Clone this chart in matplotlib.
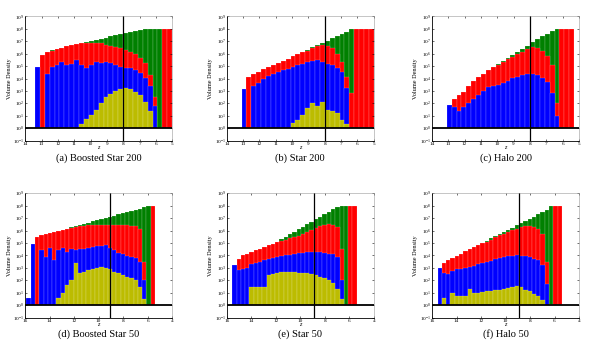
import numpy as np
import matplotlib
matplotlib.use("Agg")
import matplotlib.pyplot as plt

plt.rcParams['font.family'] = ['Liberation Serif', 'DejaVu Serif']
plt.rcParams['mathtext.fontset'] = 'stix'

# redshift bin centres (top row: width 0.3, bottom row: width 0.35)
z_top = [13.25, 12.95, 12.65, 12.35, 12.05, 11.75, 11.45, 11.15, 10.85, 10.55,
         10.25, 9.95, 9.65, 9.35, 9.05, 8.75, 8.45, 8.15, 7.85, 7.55,
         7.25, 6.95, 6.65, 6.35, 6.05, 5.75, 5.45, 5.15]
z_bot = [15.725, 15.375, 15.025, 14.675, 14.325, 13.975, 13.625, 13.275, 12.925, 12.575,
         12.225, 11.875, 11.525, 11.175, 10.825, 10.475, 10.125, 9.775, 9.425, 9.075,
         8.725, 8.375, 8.025, 7.675, 7.325, 6.975, 6.625, 6.275, 5.925, 5.575]

# log10 of volume density per bin (0 = empty)
# (a) Boosted Star 200
a_green = [4.96, 5.9, 6.15, 6.3, 6.4, 6.45, 6.63, 6.7, 6.8, 6.89,
           6.95, 7.03, 7.12, 7.22, 7.3, 7.4, 7.48, 7.57, 7.66, 7.75,
           7.83, 7.9, 7.96, 8.0, 8.0, 8.0, 0, 0]
a_red = [0, 5.86, 6.12, 6.25, 6.38, 6.45, 6.63, 6.7, 6.8, 6.89,
         6.89, 6.89, 6.89, 6.84, 6.71, 6.63, 6.55, 6.45, 6.32, 6.17,
         5.94, 5.66, 5.22, 4.32, 2.5, 0, 8.0, 8.0]
a_blue = [4.96, 0, 4.37, 4.96, 5.09, 5.35, 5.09, 5.2, 5.48, 5.09,
          4.83, 5.09, 5.35, 5.22, 5.35, 5.22, 5.09, 4.96, 4.88, 4.83,
          4.7, 4.45, 4.06, 3.42, 1.8, 0, 0, 0]
a_yellow = [0, 0, 0, 0, 0, 0, 0, 0, 0, 0.33,
            0.72, 1.1, 1.49, 2.0, 2.52, 2.78, 3.03, 3.16, 3.24, 3.16,
            2.9, 2.65, 2.13, 1.36, 0, 0, 0, 0]

# (b) Star 200
b_green = [0, 3.16, 4.1, 4.4, 4.56, 4.74, 4.9, 5.05, 5.25, 5.4,
           5.6, 5.8, 5.95, 6.1, 6.3, 6.5, 6.7, 6.88, 7.06, 7.23,
           7.4, 7.58, 7.75, 7.95, 8.0, 0, 0, 0]
b_red = [0, 0, 4.1, 4.4, 4.56, 4.74, 4.9, 5.05, 5.25, 5.4,
         5.6, 5.8, 5.95, 6.1, 6.25, 6.45, 6.6, 6.7, 6.65, 6.45,
         6.0, 5.35, 4.1, 2.8, 8.0, 8.0, 8.0, 8.0]
b_blue = [0, 3.16, 0, 3.42, 3.6, 3.96, 4.2, 4.35, 4.55, 4.65,
          4.8, 4.95, 5.05, 5.2, 5.35, 5.4, 5.5, 5.3, 5.2, 5.1,
          4.85, 4.5, 3.2, 0, 0, 0, 0, 0]
b_yellow = [0, 0, 0, 0, 0, 0, 0, 0, 0, 0,
            0, 0.4, 0.7, 1.1, 1.6, 2.0, 1.8, 2.1, 1.5, 1.4,
            1.2, 0.7, 0.3, 0, 0, 0, 0, 0]

# (c) Halo 200
c_green = [0, 1.87, 2.38, 2.64, 2.9, 3.42, 3.8, 4.15, 4.4, 4.65,
           4.9, 5.15, 5.4, 5.65, 5.9, 6.15, 6.4, 6.65, 6.9, 7.15,
           7.4, 7.6, 7.8, 8.0, 0, 0, 0, 0]
c_red = [0, 0, 2.38, 2.64, 2.9, 3.42, 3.8, 4.15, 4.4, 4.65,
         4.9, 5.1, 5.35, 5.55, 5.75, 5.95, 6.15, 6.35, 6.5, 6.45,
         6.2, 5.8, 5.1, 2.0, 8.0, 8.0, 8.0, 0]
c_blue = [0, 1.87, 1.74, 1.35, 1.74, 2.0, 2.38, 2.64, 3.0, 3.3,
          3.4, 3.45, 3.6, 3.8, 4.05, 4.15, 4.25, 4.35, 4.35, 4.25,
          4.05, 3.7, 2.8, 1.0, 0, 0, 0, 0]
c_yellow = [0] * 28

# (d) Boosted Star 50
d_green = [0.57, 4.92, 5.5, 5.67, 5.75, 5.82, 5.9, 5.98, 6.08, 6.17,
           6.26, 6.36, 6.45, 6.55, 6.64, 6.74, 6.83, 6.93, 7.02, 7.12,
           7.21, 7.31, 7.4, 7.5, 7.59, 7.69, 7.78, 7.88, 8.0, 0]
d_red = [0, 0, 5.5, 5.67, 5.75, 5.82, 5.9, 5.98, 6.05, 6.13,
         6.2, 6.28, 6.35, 6.4, 6.42, 6.45, 6.45, 6.45, 6.45, 6.45,
         6.45, 6.45, 6.45, 6.45, 6.4, 6.35, 6.1, 3.5, 0, 8.0]
d_blue = [0.57, 4.92, 0, 4.4, 3.9, 4.6, 3.6, 4.4, 4.6, 4.3,
          4.5, 4.4, 4.5, 4.5, 4.6, 4.7, 4.8, 4.75, 4.85, 4.6,
          4.4, 4.2, 4.1, 3.95, 3.9, 3.8, 3.5, 2.0, 0, 0]
d_yellow = [0, 0, 0, 0, 0, 0, 0, 0.6, 1.0, 1.6,
            2.0, 3.4, 2.6, 2.7, 2.8, 2.95, 3.0, 3.05, 3.0, 2.9,
            2.7, 2.6, 2.45, 2.3, 2.2, 2.0, 1.5, 0.5, 0, 0]

# (e) Star 50
e_green = [0, 3.24, 3.68, 4.0, 4.14, 4.25, 4.4, 4.55, 4.7, 4.82,
           4.95, 5.1, 5.3, 5.5, 5.7, 5.9, 6.1, 6.3, 6.5, 6.7,
           6.9, 7.1, 7.3, 7.5, 7.7, 7.9, 8.0, 8.0, 0, 0]
e_red = [0, 0, 3.68, 4.0, 4.14, 4.25, 4.4, 4.55, 4.7, 4.82,
         4.95, 5.05, 5.15, 5.27, 5.38, 5.5, 5.6, 5.75, 5.9, 6.05,
         6.25, 6.4, 6.45, 6.5, 6.45, 6.3, 4.5, 0, 8.0, 8.0]
e_blue = [0, 3.24, 2.8, 2.9, 3.0, 3.3, 3.4, 3.5, 3.65, 3.75,
          3.8, 3.9, 3.95, 4.0, 4.05, 4.1, 4.2, 4.2, 4.25, 4.3,
          4.3, 4.25, 4.2, 4.15, 4.1, 3.85, 2.0, 0, 0, 0]
e_yellow = [0, 0, 0, 0, 0, 1.45, 1.5, 1.5, 1.5, 2.4,
            2.5, 2.6, 2.65, 2.65, 2.65, 2.65, 2.6, 2.6, 2.55, 2.5,
            2.45, 2.3, 2.15, 2.0, 1.8, 1.3, 0.5, 0, 0, 0]

# (f) Halo 50
f_green = [0, 3.03, 3.42, 3.6, 3.8, 3.98, 4.15, 4.33, 4.5, 4.68,
           4.85, 5.03, 5.2, 5.38, 5.55, 5.73, 5.9, 6.08, 6.25, 6.43,
           6.6, 6.78, 6.95, 7.13, 7.3, 7.48, 7.65, 8.0, 0, 0]
f_red = [0, 0, 3.42, 3.6, 3.8, 3.98, 4.15, 4.33, 4.5, 4.68,
         4.85, 4.97, 5.1, 5.25, 5.45, 5.62, 5.75, 5.9, 6.02, 6.15,
         6.3, 6.4, 6.38, 6.3, 6.15, 5.75, 3.5, 0, 8.0, 8.0]
f_blue = [0, 3.03, 2.6, 2.5, 2.77, 2.9, 2.95, 3.03, 3.1, 3.16,
          3.3, 3.42, 3.5, 3.58, 3.7, 3.76, 3.85, 3.92, 3.95, 4.0,
          3.95, 3.92, 3.86, 3.75, 3.6, 3.2, 1.7, 0, 0, 0]
f_yellow = [0, 0, 0.57, 0, 0.96, 0.7, 0.7, 0.75, 1.3, 0.95,
            1.0, 1.05, 1.1, 1.15, 1.2, 1.22, 1.3, 1.35, 1.45, 1.55,
            1.5, 1.25, 1.1, 0.9, 0.7, 0.4, 0, 0, 0, 0]

captions = ['(a) Boosted Star 200', '(b) Star 200', '(c) Halo 200',
            '(d) Boosted Star 50', '(e) Star 50', '(f) Halo 50']
z_marker = [8.0, 8.0, 8.0, 9.06, 8.9, 8.9]

panels = [(a_green, a_red, a_blue, a_yellow), (b_green, b_red, b_blue, b_yellow),
          (c_green, c_red, c_blue, c_yellow), (d_green, d_red, d_blue, d_yellow),
          (e_green, e_red, e_blue, e_yellow), (f_green, f_red, f_blue, f_yellow)]
colors = ['#008000', '#ff0000', '#0000ff', '#bcbc00']

fig = plt.figure(figsize=(6, 3.49), dpi=100)
lefts = [0.042, 0.378, 0.72]
for i, series in enumerate(panels):
    row, col = divmod(i, 3)
    bottom = 0.597 if row == 0 else 0.09
    ax = fig.add_axes([lefts[col], bottom, 0.245, 0.356])
    if row == 0:
        z, w = np.array(z_top), 0.3
    else:
        z, w = np.array(z_bot), 0.35
    for vals, c in zip(series, colors):
        h = 10.0 ** np.array(vals) - 1
        ax.bar(z, h, width=w, bottom=1, color=c, edgecolor='white', linewidth=0.12)
    ax.set_yscale('log')
    ax.set_ylim(0.1, 1e9)
    ax.set_yticks([10.0 ** k for k in range(-1, 10)])
    ax.minorticks_off()
    if row == 0:
        ax.set_xlim(14, 5)
        ax.set_xticks(range(14, 4, -1))
    else:
        ax.set_xlim(16, 4)
        ax.set_xticks(range(16, 3, -2))
    ax.axhline(1, color='black', lw=1.3)
    ax.axvline(z_marker[i], color='black', lw=0.9)
    ax.tick_params(labelsize=3.8, length=1.5, width=0.4, direction='in', pad=0.8,
                   top=True, right=True)
    for s in ['top', 'right']:
        ax.spines[s].set_color('#999999')
        ax.spines[s].set_linewidth(0.4)
    for s in ['left', 'bottom']:
        ax.spines[s].set_linewidth(0.6)
    ax.set_xlabel('z', fontsize=4.5, style='italic', labelpad=-0.5)
    ax.set_ylabel('Volume Density', fontsize=4.5, labelpad=1)
    pos = ax.get_position()
    ycap = 0.547 if row == 0 else 0.042
    fig.text(pos.x0 + pos.width / 2, ycap, captions[i], ha='center', va='center', fontsize=7.5)

fig.savefig('out.png', dpi=100)
